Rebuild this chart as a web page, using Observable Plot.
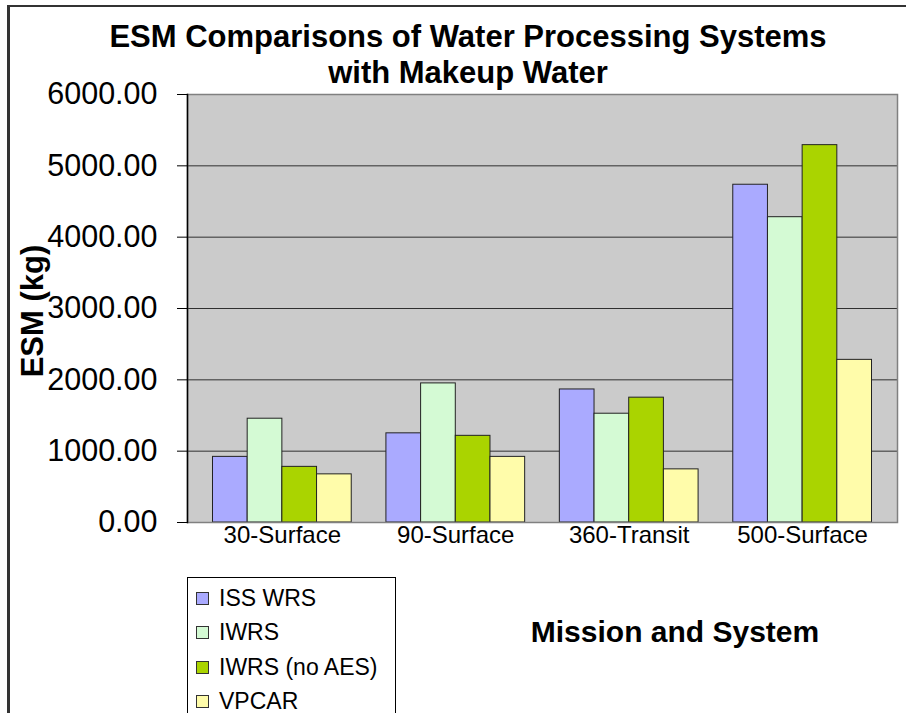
<!DOCTYPE html>
<html>
<head>
<meta charset="utf-8">
<script src="https://cdn.jsdelivr.net/npm/d3@7"></script>
<script src="https://cdn.jsdelivr.net/npm/@observablehq/plot@0.6"></script>
<style>
  body { margin: 0; background: #fff; font-family: "Liberation Sans", Arial, sans-serif; color: #000; }
  #wrap { position: relative; width: 906px; height: 713px; overflow: hidden; background: #fff; }
  #border { position: absolute; left: 7px; top: 5px; width: 960px; height: 800px; border-left: 3px solid #333; border-top: 2px solid #333; box-sizing: border-box; }
  #chart { position: absolute; left: 0; top: 0; }
  #title { position: absolute; left: 0; width: 936px; top: 19px; text-align: center; font-weight: bold; font-size: 31px; line-height: 36px; }
  #ylabel { position: absolute; left: 33px; top: 311px; transform: translate(-50%, -50%) rotate(-90deg); font-weight: bold; font-size: 31px; white-space: nowrap; }
  #xlabel { position: absolute; left: 675px; top: 632px; transform: translate(-50%, -50%); font-weight: bold; font-size: 30px; white-space: nowrap; }
  #legend { position: absolute; left: 187px; top: 577px; width: 209px; height: 200px; border: 1px solid #000; box-sizing: border-box; padding-top: 3px; background: #fff; }
  .item { height: 34.5px; display: flex; align-items: center; font-size: 23px; }
  .sw { width: 13px; height: 13px; border: 1px solid #333; box-sizing: border-box; margin-left: 8px; margin-right: 10px; }
</style>
</head>
<body>
<div id="wrap">
  <div id="border"></div>
  <div id="chart"></div>
  <div id="title">ESM Comparisons of Water Processing Systems<br>with Makeup Water</div>
  <div id="ylabel">ESM (kg)</div>
  <div id="xlabel">Mission and System</div>
  <div id="legend"></div>
</div>
<script>
const categories = ["30-Surface", "90-Surface", "360-Transit", "500-Surface"];
const series = ["ISS WRS", "IWRS", "IWRS (no AES)", "VPCAR"];
const issWrs = [920, 1250, 1865, 4735];
const iwrs = [1455, 1950, 1525, 4280];
const iwrsNoAes = [780, 1215, 1750, 5290];
const vpcar = [675, 920, 745, 2280];
const seriesColors = ["#aaaaff", "#d4fad4", "#aad400", "#fffcaa"];
const yTicks = [0, 1000, 2000, 3000, 4000, 5000, 6000];

const seriesValues = [issWrs, iwrs, iwrsNoAes, vpcar];
const key = (c, s) => c + " | " + s;
const rows = categories.flatMap((c, i) =>
  series.map((s, j) => ({category: c, series: s, value: seriesValues[j][i]})));
// band domain: bars of each mission side by side, one empty slot between missions
const xDomain = categories.flatMap((c, i) =>
  [...series.map(s => key(c, s)), ...(i < categories.length - 1 ? ["gap-" + i] : [])]);

const plot = Plot.plot({
  width: 906,
  height: 713,
  marginLeft: 187,
  marginRight: 9,
  marginTop: 94,
  marginBottom: 191,
  style: {background: "transparent", fontFamily: "'Liberation Sans', Arial, sans-serif", color: "#000"},
  x: {domain: xDomain, paddingInner: 0, paddingOuter: 0.735, round: false, axis: null},
  y: {domain: [0, 6000], axis: null},
  color: {domain: series, range: seriesColors},
  marks: [
    Plot.frame({fill: "#cbcbcb"}),
    Plot.gridY(yTicks.filter(t => t > 0 && t < 6000), {stroke: "#303030", strokeOpacity: 1, strokeWidth: 1}),
    Plot.barY(rows, {x: d => key(d.category, d.series), y: "value", fill: "series", stroke: "#222", strokeWidth: 1}),
    Plot.frame({stroke: "#808080", strokeWidth: 1.5}),
    Plot.frame({anchor: "left", stroke: "#000", strokeWidth: 1.5}),
    Plot.axisY({ticks: yTicks, tickFormat: d3.format(".2f"), tickSize: 10, tickPadding: 20, fontSize: 30.5, stroke: "#000", label: null}),
    Plot.text(categories, {x: c => key(c, series[1]), frameAnchor: "bottom", dx: 17.3, dy: 20, fontSize: 24, fill: "#000"})
  ]
});
document.getElementById("chart").appendChild(plot);

const color = plot.scale("color");
const legend = document.getElementById("legend");
for (const s of series) {
  const item = document.createElement("div");
  item.className = "item";
  const sw = document.createElement("span");
  sw.className = "sw";
  sw.style.background = color.apply(s);
  const label = document.createElement("span");
  label.textContent = s;
  item.appendChild(sw);
  item.appendChild(label);
  legend.appendChild(item);
}
</script>
</body>
</html>
